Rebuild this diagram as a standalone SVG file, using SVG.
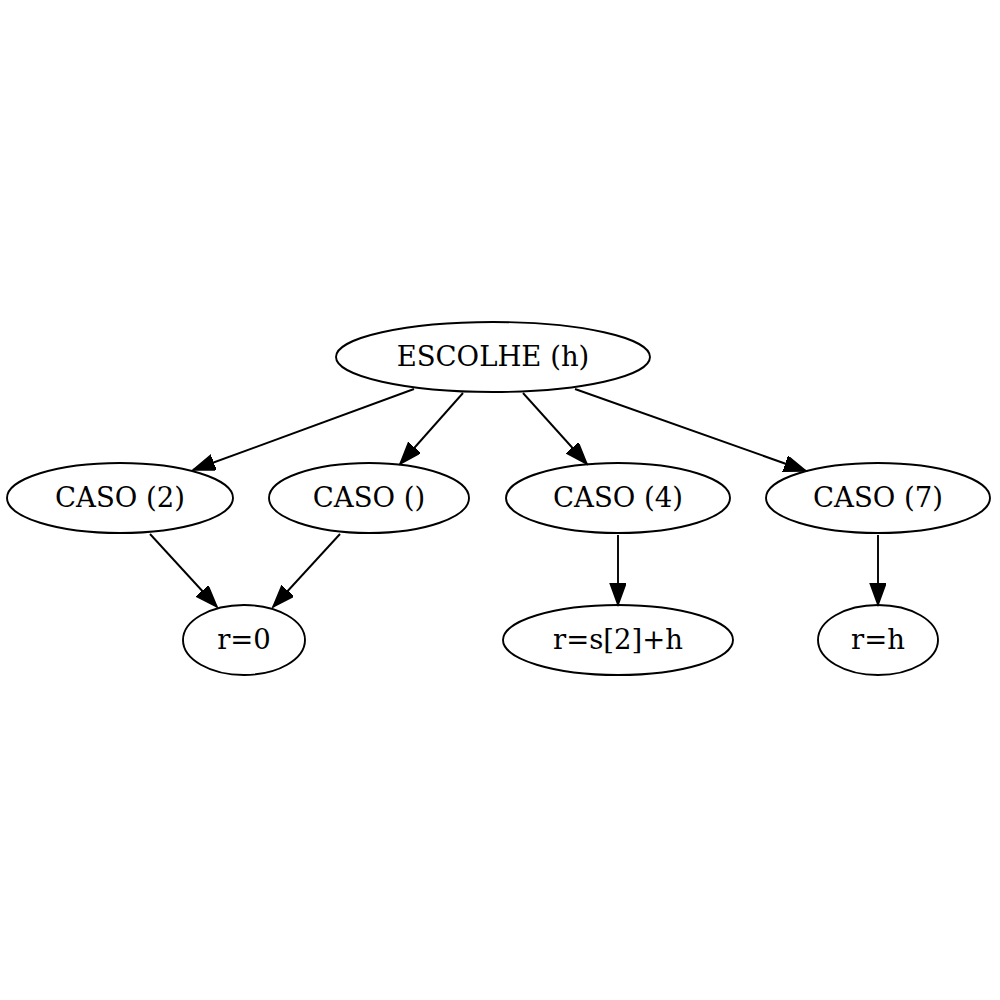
<svg xmlns="http://www.w3.org/2000/svg" width="1000" height="1000" viewBox="0 0 1000 1000">
<style>
.n ellipse{fill:none;stroke:#000;stroke-width:1.9}
.n text{font-family:"DejaVu Serif",serif;font-size:27.5px;text-anchor:middle;fill:#000}
#edges line{stroke:#000;stroke-width:1.9;marker-end:url(#ah)}
</style>
<defs>
<marker id="ah" markerUnits="userSpaceOnUse" markerWidth="24" markerHeight="18" refX="22" refY="8" orient="auto" viewBox="0 0 24 18">
<path d="M0,0 L22,8 L0,16 z" fill="#000" stroke="#000" stroke-width="1.5"/>
</marker>
</defs>
<rect width="1000" height="1000" fill="#fff"/>
<g id="edges">
<line x1="414" y1="389" x2="193" y2="470"/>
<line x1="463" y1="393" x2="400" y2="464"/>
<line x1="523" y1="393" x2="587" y2="464"/>
<line x1="575" y1="389" x2="806" y2="471"/>
<line x1="150" y1="534" x2="217" y2="607"/>
<line x1="340" y1="534" x2="273" y2="607"/>
<line x1="618" y1="535" x2="618" y2="605"/>
<line x1="878" y1="535" x2="878" y2="605"/>
</g>
<g id="escolhe" class="n"><ellipse cx="493" cy="357" rx="157" ry="35"/><text x="493" y="366">ESCOLHE (h)</text></g>
<g id="caso2" class="n"><ellipse cx="120" cy="498" rx="113" ry="35"/><text x="120" y="507">CASO (2)</text></g>
<g id="casoempty" class="n"><ellipse cx="369" cy="498" rx="100" ry="35"/><text x="369" y="507">CASO ()</text></g>
<g id="caso4" class="n"><ellipse cx="618" cy="498" rx="112" ry="35"/><text x="618" y="507">CASO (4)</text></g>
<g id="caso7" class="n"><ellipse cx="878" cy="498" rx="112" ry="35"/><text x="878" y="507">CASO (7)</text></g>
<g id="r0" class="n"><ellipse cx="244" cy="640" rx="61" ry="35"/><text x="244" y="649">r=0</text></g>
<g id="rs2h" class="n"><ellipse cx="618" cy="640" rx="115" ry="35"/><text x="618" y="649">r=s[2]+h</text></g>
<g id="rh" class="n"><ellipse cx="878" cy="640" rx="60" ry="35"/><text x="878" y="649">r=h</text></g>
</svg>
